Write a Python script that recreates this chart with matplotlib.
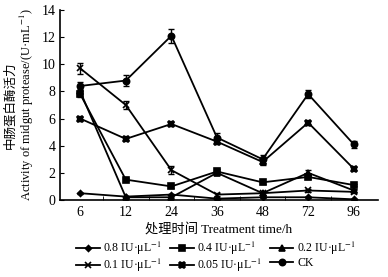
import numpy as np
import matplotlib.pyplot as plt

plt.rcParams['font.family'] = ['Liberation Serif', 'Noto Sans CJK SC']
plt.rcParams['mathtext.fontset'] = 'stix'

times = ['6', '12', '24', '36', '48', '72', '96']

# activity of midgut protease (U/mL) per treatment
ck = [8.4, 8.8, 12.1, 4.6, 3.0, 7.8, 4.1]
ck_err = [0.3, 0.4, 0.5, 0.3, 0.3, 0.3, 0.25]
d005 = [6.0, 4.5, 5.6, 4.3, 2.8, 5.7, 2.3]
d005_err = [0.15, 0.1, 0.15, 0.2, 0.2, 0.15, 0.1]
d01 = [9.7, 7.0, 2.2, 0.4, 0.5, 0.7, 0.6]
d01_err = [0.4, 0.3, 0.3, 0.1, 0.1, 0.1, 0.1]
d02 = [8.0, 0.2, 0.2, 2.0, 0.5, 2.0, 0.7]
d02_err = [0.2, 0.05, 0.05, 0.15, 0.1, 0.2, 0.1]
d04 = [7.8, 1.5, 1.0, 2.1, 1.3, 1.7, 1.1]
d04_err = [0.2, 0.1, 0.1, 0.15, 0.1, 0.15, 0.1]
d08 = [0.5, 0.25, 0.4, 0.1, 0.2, 0.2, 0.05]
d08_err = [0.05, 0.05, 0.05, 0.05, 0.05, 0.05, 0.05]

x = np.arange(len(times))

fig = plt.figure(figsize=(3.88, 2.77), dpi=100)
ax = fig.add_axes([0.155, 0.278, 0.819, 0.686])

# legend order filled column-wise -> rows read 0.8/0.4/0.2, 0.1/0.05/CK
series = [
    ('0.8 IU·μL$^{-1}$', d08, d08_err, 'D', 3),
    ('0.1 IU·μL$^{-1}$', d01, d01_err, 'x', 5),
    ('0.4 IU·μL$^{-1}$', d04, d04_err, 's', 4),
    ('0.05 IU·μL$^{-1}$', d005, d005_err, 'X', 5),
    ('0.2 IU·μL$^{-1}$', d02, d02_err, '^', 4),
    ('CK', ck, ck_err, 'o', 4.5),
]
for label, vals, err, m, ms in series:
    ax.errorbar(x, vals, yerr=err, fmt='none', ecolor='black',
                elinewidth=1, capsize=2.5, capthick=1)
    ax.plot(x, vals, color='black', marker=m, markersize=ms, lw=1.3,
            mew=1.2, label=label)

ax.set_xlim(-0.44, 6.53)
ax.set_ylim(0, 14)
ax.set_yticks(np.arange(0, 15, 2))
ax.set_xticks(x)
ax.set_xticklabels(times)
ax.set_xticks(x[:-1] + 0.5, minor=True)
ax.tick_params(axis='x', which='major', length=0, labelsize=10, pad=4)
ax.tick_params(axis='x', which='minor', direction='in', length=3)
ax.tick_params(axis='y', direction='in', length=3, labelsize=10)
for s in ['top', 'right']:
    ax.spines[s].set_visible(False)
ax.spines['left'].set_linewidth(1.2)
ax.spines['bottom'].set_linewidth(1.2)

ax.set_ylabel('中肠蛋白酶活力\nActivity of midgut protease/(U·mL$^{-1}$)',
              fontsize=9, linespacing=1.1, labelpad=4)
ax.set_xlabel('处理时间 Treatment time/h', fontsize=9.5, labelpad=3)

ax.legend(ncol=3, frameon=False, fontsize=8.5, handlelength=2,
          columnspacing=0.7, handletextpad=0.3, labelspacing=0.0,
          borderpad=0.2, loc='upper center', bbox_to_anchor=(0.49, -0.165))

fig.savefig('out.png', dpi=100)
